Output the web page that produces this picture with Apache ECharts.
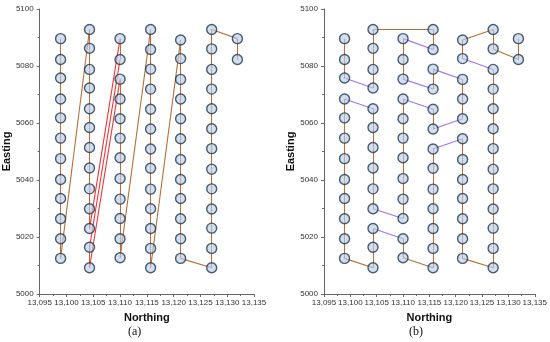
<!DOCTYPE html>
<html><head><meta charset="utf-8">
<script src="https://cdn.jsdelivr.net/npm/echarts@6/dist/echarts.min.js"></script>
<style>html,body{margin:0;padding:0;background:#fff}#c{width:550px;height:342px}</style>
</head><body><div id="c"></div>
<script>
// Northing of each survey column
const northing = [13098.9, 13104.3, 13110.0, 13115.7, 13121.3, 13127.1, 13131.9];
// Easting of points in each column (top to bottom)
const col1 = [5089.6, 5082.3, 5075.8, 5068.4, 5061.8, 5054.7, 5047.5, 5040.2, 5033.5, 5026.4, 5019.4, 5012.5];
const col2 = [5092.8, 5086.2, 5078.8, 5072.3, 5065.0, 5058.4, 5051.4, 5044.2, 5036.9, 5029.9, 5023.0, 5016.4, 5009.2];
const col3 = [5089.6, 5082.3, 5075.4, 5068.4, 5061.5, 5054.7, 5047.8, 5040.5, 5033.3, 5026.5, 5019.4, 5012.7];
const col4 = [5092.8, 5085.8, 5078.9, 5071.9, 5064.8, 5057.9, 5050.9, 5044.1, 5036.8, 5029.9, 5023.0, 5016.0, 5009.2];
const col5 = [5089.1, 5082.6, 5075.3, 5068.4, 5061.5, 5054.5, 5047.2, 5040.2, 5033.5, 5026.4, 5019.4, 5012.5];
const col6 = [5092.8, 5086.0, 5078.8, 5071.9, 5065.0, 5058.0, 5051.0, 5043.8, 5036.9, 5029.8, 5023.1, 5016.0, 5009.2];
const col7 = [5089.6, 5082.3];
const eastings = [col1, col2, col3, col4, col5, col6, col7];

// axis ticks
const xTicks = [13095, 13100, 13105, 13110, 13115, 13120, 13125, 13130, 13135];
const yTicks = [5000, 5020, 5040, 5060, 5080, 5100];

function run(c, from, to) {
  const out = [];
  const step = from <= to ? 1 : -1;
  for (let i = from; step > 0 ? i <= to : i >= to; i += step) out.push(c + ':' + i);
  return out;
}
// Path (a): visiting order
const pathA = [...run(1,1,12), ...run(2,1,11), '3:1', '3:2', '2:12', '2:13', ...run(3,3,12),
  ...run(4,1,13), ...run(5,1,12), ...run(6,13,1), '7:1', '7:2'];
const crossLinksA = [['2:11','3:1'], ['3:2','2:12'], ['2:13','3:3']];
// Path (b): visiting order
const pathB = ['1:1','1:2','1:3','2:4','2:3','2:2','2:1','4:1','4:2','3:1','3:2','3:3','4:4','4:3',
  '5:3','5:4','5:5','4:6','4:5', ...run(3,4,10), ...run(2,10,5), ...run(1,4,12), ...run(2,13,11),
  '3:11','3:12', ...run(4,13,7), ...run(5,6,12), ...run(6,13,3), '5:2','5:1','6:1','6:2','7:2','7:1'];
const turnLinksB = [['2:1','4:1'], ['1:12','2:13'], ['3:12','4:13'], ['5:12','6:13'], ['5:1','6:1'], ['6:2','7:2']];

function pt(label) {
  const [c, i] = label.split(':').map(Number);
  return [northing[c - 1], eastings[c - 1][i - 1]];
}
function hasPair(list, a, b) {
  return list.some(p => (p[0] === a && p[1] === b) || (p[0] === b && p[1] === a));
}
const BROWN = '#b0713f', RED = '#e8383a', PURPLE = '#9c74ee';

const segA = [], segB = [];
for (let k = 0; k < pathA.length - 1; k++) {
  const a = pathA[k], b = pathA[k + 1];
  segA.push({coords: [pt(a), pt(b)], lineStyle: {color: hasPair(crossLinksA, a, b) ? RED : BROWN}});
}
for (let k = 0; k < pathB.length - 1; k++) {
  const a = pathB[k], b = pathB[k + 1];
  const cross = a.split(':')[0] !== b.split(':')[0];
  const purple = cross && !hasPair(turnLinksB, a, b);
  segB.push({coords: [pt(a), pt(b)], lineStyle: {color: purple ? PURPLE : BROWN}});
}
const allPts = [];
eastings.forEach((col, c) => col.forEach(e => allPts.push([northing[c], e])));

const FONT = 'Liberation Sans';
function xAx(idx) {
  return {
    gridIndex: idx, type: 'value', min: xTicks[0], max: xTicks[xTicks.length - 1], interval: 5,
    name: 'Northing', nameLocation: 'middle', nameGap: 18,
    nameTextStyle: {fontFamily: FONT, fontWeight: 'bold', fontSize: 11, color: '#111'},
    axisLine: {show: true, lineStyle: {color: '#666', width: 1}},
    axisTick: {show: true, length: 3, inside: false, lineStyle: {color: '#666'}},
    minorTick: {show: true, splitNumber: 2, length: 2, lineStyle: {color: '#666'}},
    axisLabel: {fontFamily: FONT, fontSize: 8, color: '#333', margin: 5,
      formatter: v => String(v).replace(/(\d{2})(\d{3})$/, '$1,$2')},
    splitLine: {show: false}
  };
}
function yAx(idx, gap) {
  return {
    gridIndex: idx, type: 'value', min: yTicks[0], max: yTicks[yTicks.length - 1], interval: 20,
    name: 'Easting', nameLocation: 'middle', nameGap: gap, nameRotate: 90,
    nameTextStyle: {fontFamily: FONT, fontWeight: 'bold', fontSize: 11, color: '#111'},
    axisLine: {show: true, lineStyle: {color: '#666', width: 1}},
    axisTick: {show: true, length: 3, inside: false, lineStyle: {color: '#666'}},
    minorTick: {show: true, splitNumber: 2, length: 2, lineStyle: {color: '#666'}},
    axisLabel: {fontFamily: FONT, fontSize: 8, color: '#333', margin: 6, formatter: v => String(v)},
    splitLine: {show: false}
  };
}
const scatterStyle = {color: 'rgba(185,205,232,0.8)', borderColor: '#22364a', borderWidth: 1.4};

const chart = echarts.init(document.getElementById('c'), null, {renderer: 'canvas'});
chart.setOption({
  animation: false,
  grid: [
    {left: 38, top: 9, width: 216, height: 285},
    {left: 324, top: 9, width: 213, height: 285}
  ],
  xAxis: [xAx(0), xAx(1)],
  yAxis: [yAx(0, 20), yAx(1, 24)],
  graphic: [
    {type: 'text', left: 128, top: 326, style: {text: '(a)', font: '12px "Liberation Serif"', fill: '#111'}},
    {type: 'text', left: 409, top: 326, style: {text: '(b)', font: '12px "Liberation Serif"', fill: '#111'}}
  ],
  series: [
    {type: 'lines', coordinateSystem: 'cartesian2d', xAxisIndex: 0, yAxisIndex: 0, data: segA,
      lineStyle: {width: 1.1, opacity: 1}, z: 2},
    {type: 'lines', coordinateSystem: 'cartesian2d', xAxisIndex: 1, yAxisIndex: 1, data: segB,
      lineStyle: {width: 1.1, opacity: 1}, z: 2},
    {type: 'scatter', xAxisIndex: 0, yAxisIndex: 0, data: allPts, symbolSize: 10, itemStyle: scatterStyle, z: 3},
    {type: 'scatter', xAxisIndex: 1, yAxisIndex: 1, data: allPts, symbolSize: 10, itemStyle: scatterStyle, z: 3}
  ]
});
</script></body></html>
